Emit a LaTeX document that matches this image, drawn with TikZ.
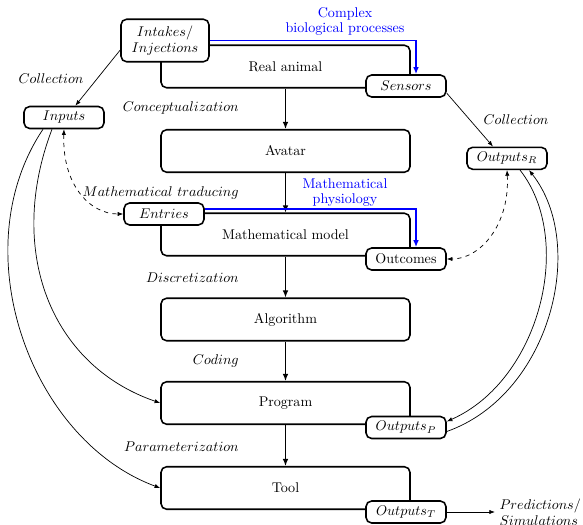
\documentclass[tikz,border=0pt]{standalone}
\usetikzlibrary{arrows.meta,calc}
\begin{document}
\begin{tikzpicture}[x=0.71pt,y=-0.71pt,
  mainbox/.style={draw, line width=1.1pt, rounded corners=4pt, fill=white,
    minimum width=176.8pt, minimum height=30.2pt, inner sep=0pt},
  tag/.style={draw, line width=1.1pt, rounded corners=4pt, fill=white,
    minimum width=56.8pt, minimum height=15.6pt, inner sep=1pt},
  steplabel/.style={anchor=east, inner sep=0pt},
  link/.style={line width=0.5pt, -{Latex[length=4pt,width=3pt]}},
  duallink/.style={line width=0.5pt, dashed, {Latex[length=4pt,width=3pt]}-{Latex[length=4pt,width=3pt]}},
  flow/.style={line width=0.8pt, -{Latex[length=5pt,width=4pt]}},
  bio/.style={blue, line width=1.1pt, -{Latex[length=5pt,width=4pt]}},
  bluelabel/.style={text=blue, align=center, inner sep=0pt, font={\fontsize{10}{10.6}\selectfont}},
  ]
\useasboundingbox (0,0) rectangle (583,525);

% main chain of stages
\node[mainbox] (animal)  at (285.5,66.5) {Real animal};
\node[mainbox] (avatar)  at (285.5,151)  {Avatar};
\node[mainbox] (model)   at (285.5,234.5) {Mathematical model};
\node[mainbox] (algo)    at (285.5,319.5) {Algorithm};
\node[mainbox] (program) at (285.5,403)  {Program};
\node[mainbox] (tool)    at (285.5,488)  {Tool};

\draw[flow] (animal) -- (avatar);
\draw[flow] (avatar) -- (model);
\draw[flow] (model) -- (algo);
\draw[flow] (algo) -- (program);
\draw[flow] (program) -- (tool);

% inputs and outputs attached to the stages
\node[tag, minimum width=62.5pt, minimum height=30.2pt, align=center,
      font={\fontsize{10}{11.3}\selectfont}] (intakes) at (165,40.5) {$Intakes/$\\$Injections$};
\node[tag] (sensors)  at (406,86)    {$Sensors$};
\node[tag] (inputs)   at (64,117.5)  {$Inputs$};
\node[tag] (outR)     at (507,158.3) {$Outputs_R$};
\node[tag] (entries)  at (164,214)   {$Entries$};
\node[tag] (outcomes) at (406,259)   {Outcomes};
\node[tag] (outP)     at (406,427.5) {$Outputs_P$};
\node[tag] (outT)     at (406,512)   {$Outputs_T$};

% blue process arrows
\draw[bio] (intakes.east) -| ($(sensors.north)+(10,0)$);
\draw[bio] ($(entries.east)+(0,-5)$) -| ($(outcomes.north)+(10,0)$);
\node[bluelabel] (bioL)  at (345,21.5)  {Complex\\biological processes};
\node[bluelabel] (physL) at (345,192.5) {Mathematical\\physiology};

% stage labels
\node[steplabel] (lConc)  at (239,108) {$Conceptualization$};
\node[steplabel] (lTrad)  at (239,193) {$Mathematical\ traducing$};
\node[steplabel] (lDisc)  at (239,278) {$Discretization$};
\node[steplabel] (lCode)  at (239,361) {$Coding$};
\node[steplabel] (lParam) at (239,447) {$Parameterization$};
\node[inner sep=0pt] (lColL) at (51,79)  {$Collection$};
\node[inner sep=0pt] (lColR) at (516,120) {$Collection$};

% data collection
\draw[link] (intakes.192) -- (inputs.46);
\draw[link] (sensors.-10) -- (outR.140);

% correspondences
\draw[duallink] (inputs.south) .. controls (62,185) and (90,214) .. (entries.west);
\draw[duallink] (outR.south) .. controls (510,225) and (480,259) .. (outcomes.east);

% data fed into program and tool
\draw[link] ($(inputs.south)+(-12,0)$) .. controls (6,250) and (50,365) .. (program.west);
\draw[link] ($(inputs.south)+(-21,0)$) .. controls (-38,250) and (30,440) .. (tool.west);

% exchange between real and program outputs
\draw[link] ($(outR.south)+(13,0)$) .. controls (575,240) and (540,380) .. ($(outP.east)+(0,-6)$);
\draw[link, {Latex[length=4pt,width=3pt]}-] ($(outR.south)+(22,0)$) .. controls (588,245) and (550,395) .. ($(outP.east)+(0,4)$);

% final results
\node[anchor=west, align=left, inner sep=3pt, font={\fontsize{10}{11.3}\selectfont}] (pred) at (495,512) {$Predictions/$\\$Simulations$};
\draw[link] (outT) -- (pred.west);
\end{tikzpicture}
\end{document}
